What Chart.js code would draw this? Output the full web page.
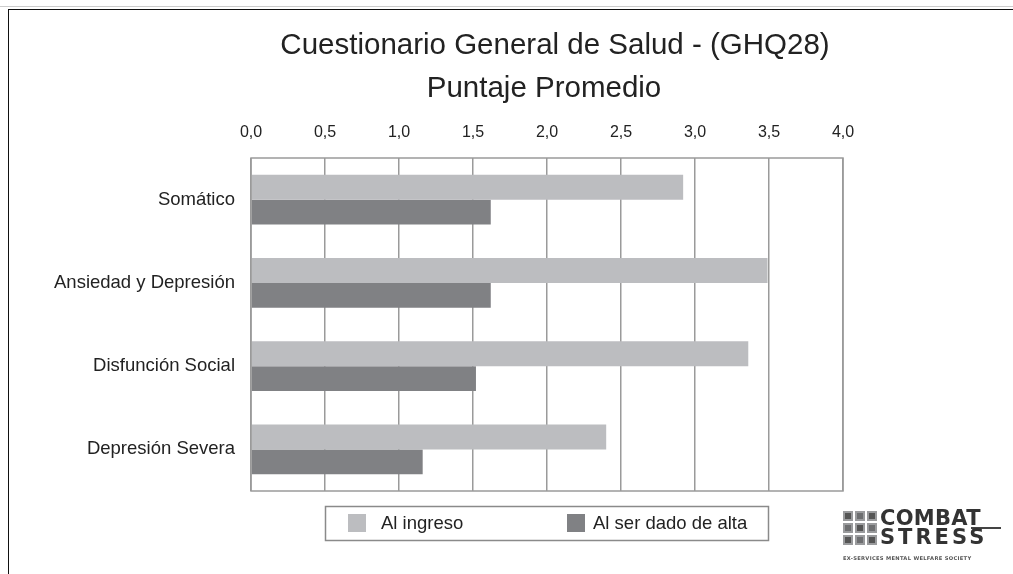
<!DOCTYPE html>
<html lang="es">
<head>
<meta charset="utf-8">
<title>Cuestionario General de Salud - (GHQ28)</title>
<script src="https://cdn.jsdelivr.net/npm/chart.js@4/dist/chart.umd.min.js"></script>
<style>
  html, body { margin: 0; padding: 0; background: #fff; }
  #wrap { position: relative; width: 1013px; height: 574px; overflow: hidden; }
  #frame {
    position: absolute; left: 8px; top: 9px; width: 1020px; height: 600px;
    border-left: 1.5px solid #111; border-top: 1.5px solid #111;
  }
  #topline { position: absolute; left: 0; top: 6px; width: 1013px; height: 1px; background: #ccc; }
  canvas { position: absolute; left: 0; top: 0; }
  /* ---- logo ---- */
  #logo { position: absolute; left: 843px; top: 509px; width: 165px; height: 60px; font-family: "DejaVu Sans", sans-serif; color: #333; }
  #logo .icon {
    position: absolute; left: 0; top: 2px; width: 34px; height: 34px;
    display: grid; grid-template-columns: repeat(3, 1fr); gap: 2px; background: #fff;
  }
  #logo .icon span { background: #6d6e70; border: 2px solid #9a9b9d; }
  #logo .icon span:nth-child(odd) { background: #555; }
  #logo .w1 { position: absolute; left: 37px; top: -3px; font-weight: bold; font-size: 21px; letter-spacing: 0.3px; }
  #logo .w2 { position: absolute; left: 37px; top: 16px; font-weight: bold; font-size: 21px; letter-spacing: 3px; }
  #logo .rule { position: absolute; left: 128px; top: 18px; width: 30px; height: 2px; background: #444; }
  #logo .small { position: absolute; left: 0; top: 46px; font-size: 5.2px; font-weight: bold; letter-spacing: 0.3px; color: #555; white-space: nowrap; }
</style>
</head>
<body>
<div id="wrap">
  <div id="topline"></div>
  <div id="frame"></div>
  <canvas id="ghq" width="1013" height="574"></canvas>
  <div id="logo">
    <div class="icon"><span></span><span></span><span></span><span></span><span></span><span></span><span></span><span></span><span></span></div>
    <div class="w1">COMBAT</div>
    <div class="rule"></div>
    <div class="w2">STRESS</div>
    <div class="small">EX-SERVICES MENTAL WELFARE SOCIETY</div>
  </div>
</div>
<script>
// ---- Data ----
const categories = ['Somático', 'Ansiedad y Depresión', 'Disfunción Social', 'Depresión Severa'];
const alIngreso  = [2.92, 3.49, 3.36, 2.40];
const alAlta     = [1.62, 1.62, 1.52, 1.16];
const seriesLabels = ['Al ingreso', 'Al ser dado de alta'];
const titleLines = ['Cuestionario General de Salud - (GHQ28)', 'Puntaje Promedio'];
const xMin = 0, xMax = 4, xStep = 0.5;

const FONT = '"Liberation Sans", Arial, sans-serif';
const TEXT = '#222';
const GRID = '#9a9a9a';
const COLORS = ['#bcbdc0', '#808184'];

// ---- Title drawn over the plot area ----
const titlePlugin = {
  id: 'ghqTitle',
  afterDraw(chart) {
    const ctx = chart.ctx;
    const centers = [555, 544];
    ctx.save();
    ctx.fillStyle = TEXT;
    ctx.font = '29.5px ' + FONT;
    ctx.textAlign = 'center';
    ctx.textBaseline = 'middle';
    titleLines.forEach((t, i) => ctx.fillText(t, centers[i], 46 + i * 43));
    ctx.restore();
  }
};

// ---- Frame around plot + boxed legend ----
const boxPlugin = {
  id: 'ghqBox',
  afterDraw(chart) {
    const ctx = chart.ctx;
    const a = chart.chartArea;
    ctx.save();
    ctx.strokeStyle = GRID;
    ctx.lineWidth = 1.5;
    ctx.strokeRect(a.left, a.top, a.right - a.left, a.bottom - a.top);

    // legend
    ctx.strokeStyle = '#8a8a8a';
    ctx.strokeRect(325.5, 506.5, 443, 34);
    const items = [{ x: 348, tx: 381 }, { x: 567, tx: 593 }];
    ctx.font = '18.5px ' + FONT;
    ctx.textBaseline = 'middle';
    ctx.textAlign = 'left';
    chart.data.datasets.forEach((ds, i) => {
      ctx.fillStyle = ds.backgroundColor;
      ctx.fillRect(items[i].x, 514, 18, 18);
      ctx.fillStyle = TEXT;
      ctx.fillText(ds.label, items[i].tx, 524);
    });
    ctx.restore();
  }
};

new Chart(document.getElementById('ghq'), {
  type: 'bar',
  data: {
    labels: categories,
    datasets: [
      { label: seriesLabels[0], data: alIngreso, backgroundColor: COLORS[0], borderWidth: 0 },
      { label: seriesLabels[1], data: alAlta,    backgroundColor: COLORS[1], borderWidth: 0 }
    ]
  },
  options: {
    indexAxis: 'y',
    responsive: false,
    animation: false,
    devicePixelRatio: 1,
    layout: { padding: { top: 109, left: 0, right: 170, bottom: 83 } },
    categoryPercentage: 0.6,
    barPercentage: 1.0,
    plugins: {
      legend: { display: false },
      title: { display: false },
      tooltip: { enabled: false }
    },
    scales: {
      x: {
        position: 'top',
        min: xMin, max: xMax,
        z: 1,
        afterFit: (s) => { s.height = 49; },
        ticks: {
          stepSize: xStep,
          color: TEXT,
          padding: 16,
          font: { family: FONT, size: 16 },
          callback: (v) => Number(v).toFixed(1).replace('.', ',')
        },
        grid: { color: GRID, lineWidth: 1.5, drawTicks: false },
        border: { display: false }
      },
      y: {
        afterFit: (s) => { s.width = 251; },
        ticks: {
          color: TEXT,
          padding: 8,
          font: { family: FONT, size: 18.5 }
        },
        grid: { display: false },
        border: { display: false }
      }
    }
  },
  plugins: [titlePlugin, boxPlugin]
});
</script>
</body>
</html>
